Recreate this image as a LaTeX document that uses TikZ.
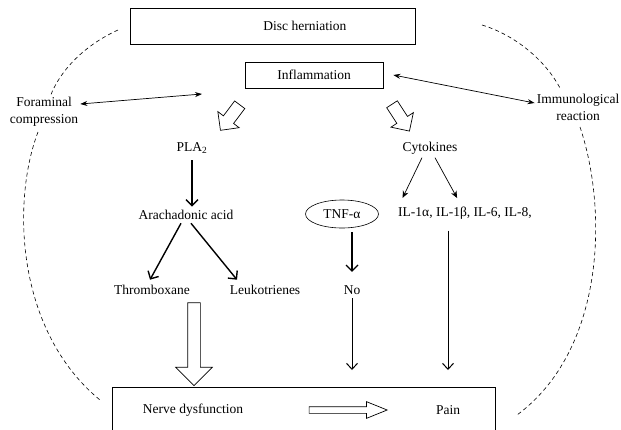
\documentclass[tikz,border=0pt]{standalone}
\usepackage{fontspec}
\setmainfont{Liberation Serif}
\usetikzlibrary{arrows.meta,shapes.geometric,shapes.arrows}

\begin{document}
\begin{tikzpicture}[x=1pt, y=-1pt, font=\fontsize{13.5}{17}\selectfont,
  box/.style = {draw, line width=0.7pt, inner sep=0pt},
  txt/.style = {inner sep=2pt, align=center},
  heavy/.style = {line width=1.4pt, -{Straight Barb[length=6pt,width=12pt]}},
  medium/.style = {line width=1pt, -{Straight Barb[length=6pt,width=11pt]}},
  light/.style = {line width=0.7pt, -{Stealth[length=7pt,width=6pt]}},
  both/.style = {line width=0.7pt, {Stealth[length=7pt,width=5pt]}-{Stealth[length=7pt,width=5pt]}},
  ring/.style = {line width=0.6pt, dash pattern=on 4pt off 3pt},
  hollow/.style = {single arrow, draw, line width=0.7pt, fill=white, inner xsep=0pt}]
\useasboundingbox (0,0) rectangle (621,429);

\node[box, minimum width=285, minimum height=36, anchor=west] (disc) at (130,26) {\hspace*{64pt}Disc herniation};
\node[box, minimum width=138, minimum height=26] (infl) at (314,75) {Inflammation};
\node[txt] (foram) at (44,112) {Foraminal\\compression};
\node[txt] (immu) at (578,107) {Immunological\\reaction};
\coordinate (lfree) at (202,94);
\draw[both] ([yshift=8pt]foram.east) -- (lfree);
\draw[both] ([xshift=10pt]infl.east) -- ([yshift=4pt]immu.west);

\node[hollow, rotate=233, minimum height=32, inner ysep=6pt, single arrow head extend=7pt] (harr1) at (232,115) {};
\node[hollow, rotate=303, minimum height=32, inner ysep=6pt, single arrow head extend=7pt] (harr2) at (399,115) {};

\node (pla) at (192,148) {PLA\textsubscript{2}};
\node (arach) at (186,215) {Arachadonic acid};
\node (thromb) at (152,290) {Thromboxane};
\node (leuko) at (265,290) {Leukotrienes};
\draw[heavy, shorten <=3pt] (pla.south) -- (pla.south |- arach.north);
\draw[heavy] ([xshift=-5pt]arach.south) -- ([xshift=-2pt, yshift=2pt]thromb.north);
\draw[heavy] ([xshift=5pt]arach.south) -- ([xshift=-28pt, yshift=2pt]leuko.north);

\node (cyto) at (430,148) {Cytokines};
\node[draw, ellipse, minimum width=73, minimum height=28, inner sep=0pt, line width=0.6pt] (tnf) at (342,214) {TNF-α};
\node (il) at (465,213) {IL-1α, IL-1β, IL-6, IL-8,};
\node (no) at (352,290) {No};
\draw[light, shorten >=6pt] ([xshift=-8pt]cyto.south) -- ([xshift=-65pt]il.north);
\draw[light, shorten >=6pt] ([xshift=5pt]cyto.south) -- ([xshift=-5pt]il.north);
\draw[heavy, shorten <=4pt, shorten >=10pt] (tnf.south -| no.north) -- (no.north);

\node[box, minimum width=383, minimum height=60, anchor=north west] (bottom) at (112,387) {};
\node (nerve) at (193,410) {Nerve dysfunction};
\node (pain) at (448,410) {Pain};
\coordinate (stop) at ([yshift=17pt]bottom.north);
\draw[medium] (no.south) -- (stop -| no.south);
\draw[medium, shorten <=8pt] (il.south -| pain) -- (stop -| pain);
\node[hollow, rotate=-90, minimum height=83, inner ysep=6pt, single arrow head extend=12pt] (harr3) at (194,341) {};
\node[hollow, minimum height=78, inner ysep=3pt, single arrow head extend=5pt, single arrow tip angle=44] (harr4) at (344,410) {};

\draw[ring] (118,30) .. controls (85,45) and (60,70) .. (50,97);
\draw[ring] (38,132) .. controls (12,200) and (15,330) .. (100,400);
\draw[ring] (482,25) .. controls (515,35) and (545,60) .. (560,88);
\draw[ring] (580,127) .. controls (608,210) and (605,350) .. (517,415);
\end{tikzpicture}
\end{document}
